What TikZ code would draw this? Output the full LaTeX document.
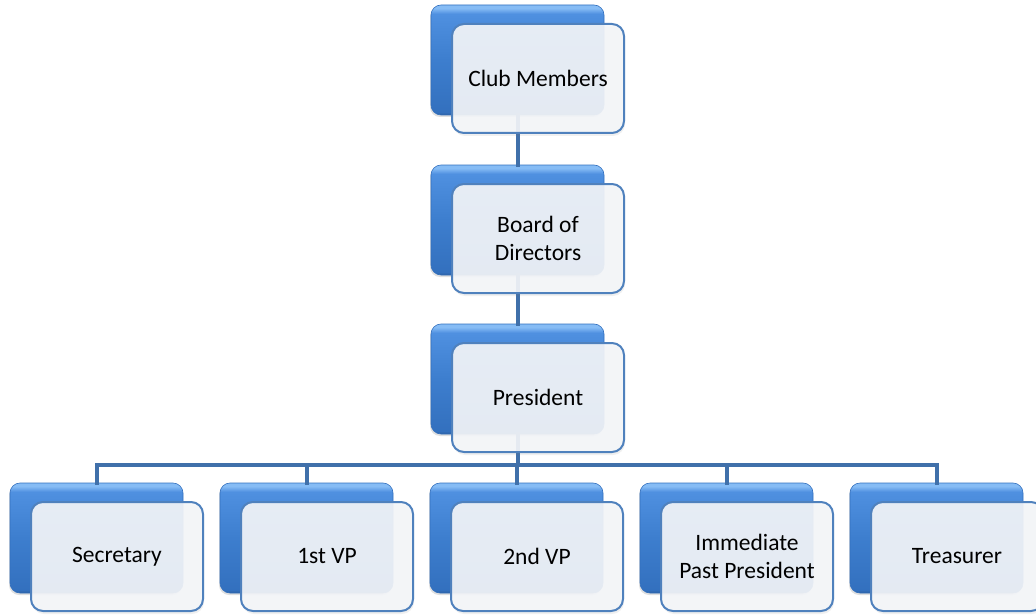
\documentclass[tikz,border=0pt]{standalone}
\usepackage{fontspec}
\setmainfont{Carlito}
\usetikzlibrary{shadows,backgrounds}
\definecolor{bhigh}{HTML}{86BCF5}
\definecolor{blight}{HTML}{4F90E0}
\definecolor{bmid}{HTML}{3D7ECE}
\definecolor{bmid2}{HTML}{3370BE}
\definecolor{bdark}{HTML}{2A5B9A}
\definecolor{frontfill}{HTML}{F3F5F8}
\definecolor{frontline}{HTML}{4F81BD}
\definecolor{connline}{HTML}{4070AA}
\pgfdeclareverticalshading{bluebevel}{100bp}{color(0bp)=(bdark); color(25bp)=(bdark); color(26.2bp)=(bmid2); color(50bp)=(bmid); color(71bp)=(blight); color(73.5bp)=(bhigh); color(100bp)=(bhigh)}
\tikzset{
  backbox/.style={anchor=north west, minimum width=173pt, minimum height=110pt,
    inner sep=0pt, outer sep=0pt, rounded corners=10pt, shading=bluebevel,
    draw=bmid2, line width=0.6pt,
    drop shadow={opacity=0.25, shadow xshift=-1pt, shadow yshift=-2pt}},
  frontbox/.style={anchor=north west, minimum width=172pt, minimum height=109pt,
    inner sep=0pt, outer sep=0pt, rounded corners=12pt, fill=frontfill, fill opacity=0.92,
    text opacity=1, draw=frontline, draw opacity=1, line width=2pt, align=center,
    font=\fontsize{23.5}{27.5}\selectfont,
    drop shadow={opacity=0.12, shadow xshift=1pt, shadow yshift=-3pt}},
  conn/.style={draw=connline, line width=4pt}
}
\begin{document}
\begin{tikzpicture}[x=1pt,y=-1pt]
\useasboundingbox (0,0) rectangle (1036,615);
\clip (0,0) rectangle (1036,615);
% back (blue) boxes
\node[backbox] (cmB) at (431,5) {};
\node[backbox] (bdB) at (431,165) {};
\node[backbox] (prB) at (431,324) {};
\node[backbox] (seB) at (10,483) {};
\node[backbox] (v1B) at (220,483) {};
\node[backbox] (v2B) at (430,483) {};
\node[backbox] (ipB) at (640,483) {};
\node[backbox] (trB) at (850,483) {};
% connectors
\coordinate (bus) at (517.5,465);
\begin{scope}[line cap=rect]
\draw[conn] (cmB.south) -- (bdB.north);
\draw[conn] (bdB.south) -- (prB.north);
\draw[conn] (prB.south) -- (bus);
\draw[conn] (seB.north) |- (bus);
\draw[conn] (v1B.north) |- (bus);
\draw[conn] (v2B.north) |- (bus);
\draw[conn] (ipB.north) |- (bus);
\draw[conn] (trB.north) |- (bus);
\end{scope}
% front boxes
\node[frontbox] (cm) at (452,24) {Club Members};
\node[frontbox] (bd) at (452,184) {Board of\\Directors};
\node[frontbox] (pr) at (452,343) {President};
\node[frontbox] (se) at (31,502) {Secretary};
\node[frontbox] (v1) at (241,502) {1st VP};
\node[frontbox] (v2) at (451,502) {2nd VP};
\node[frontbox] (ip) at (661,502) {Immediate\\Past President};
\node[frontbox] (tr) at (871,502) {Treasurer};
\end{tikzpicture}
\end{document}
